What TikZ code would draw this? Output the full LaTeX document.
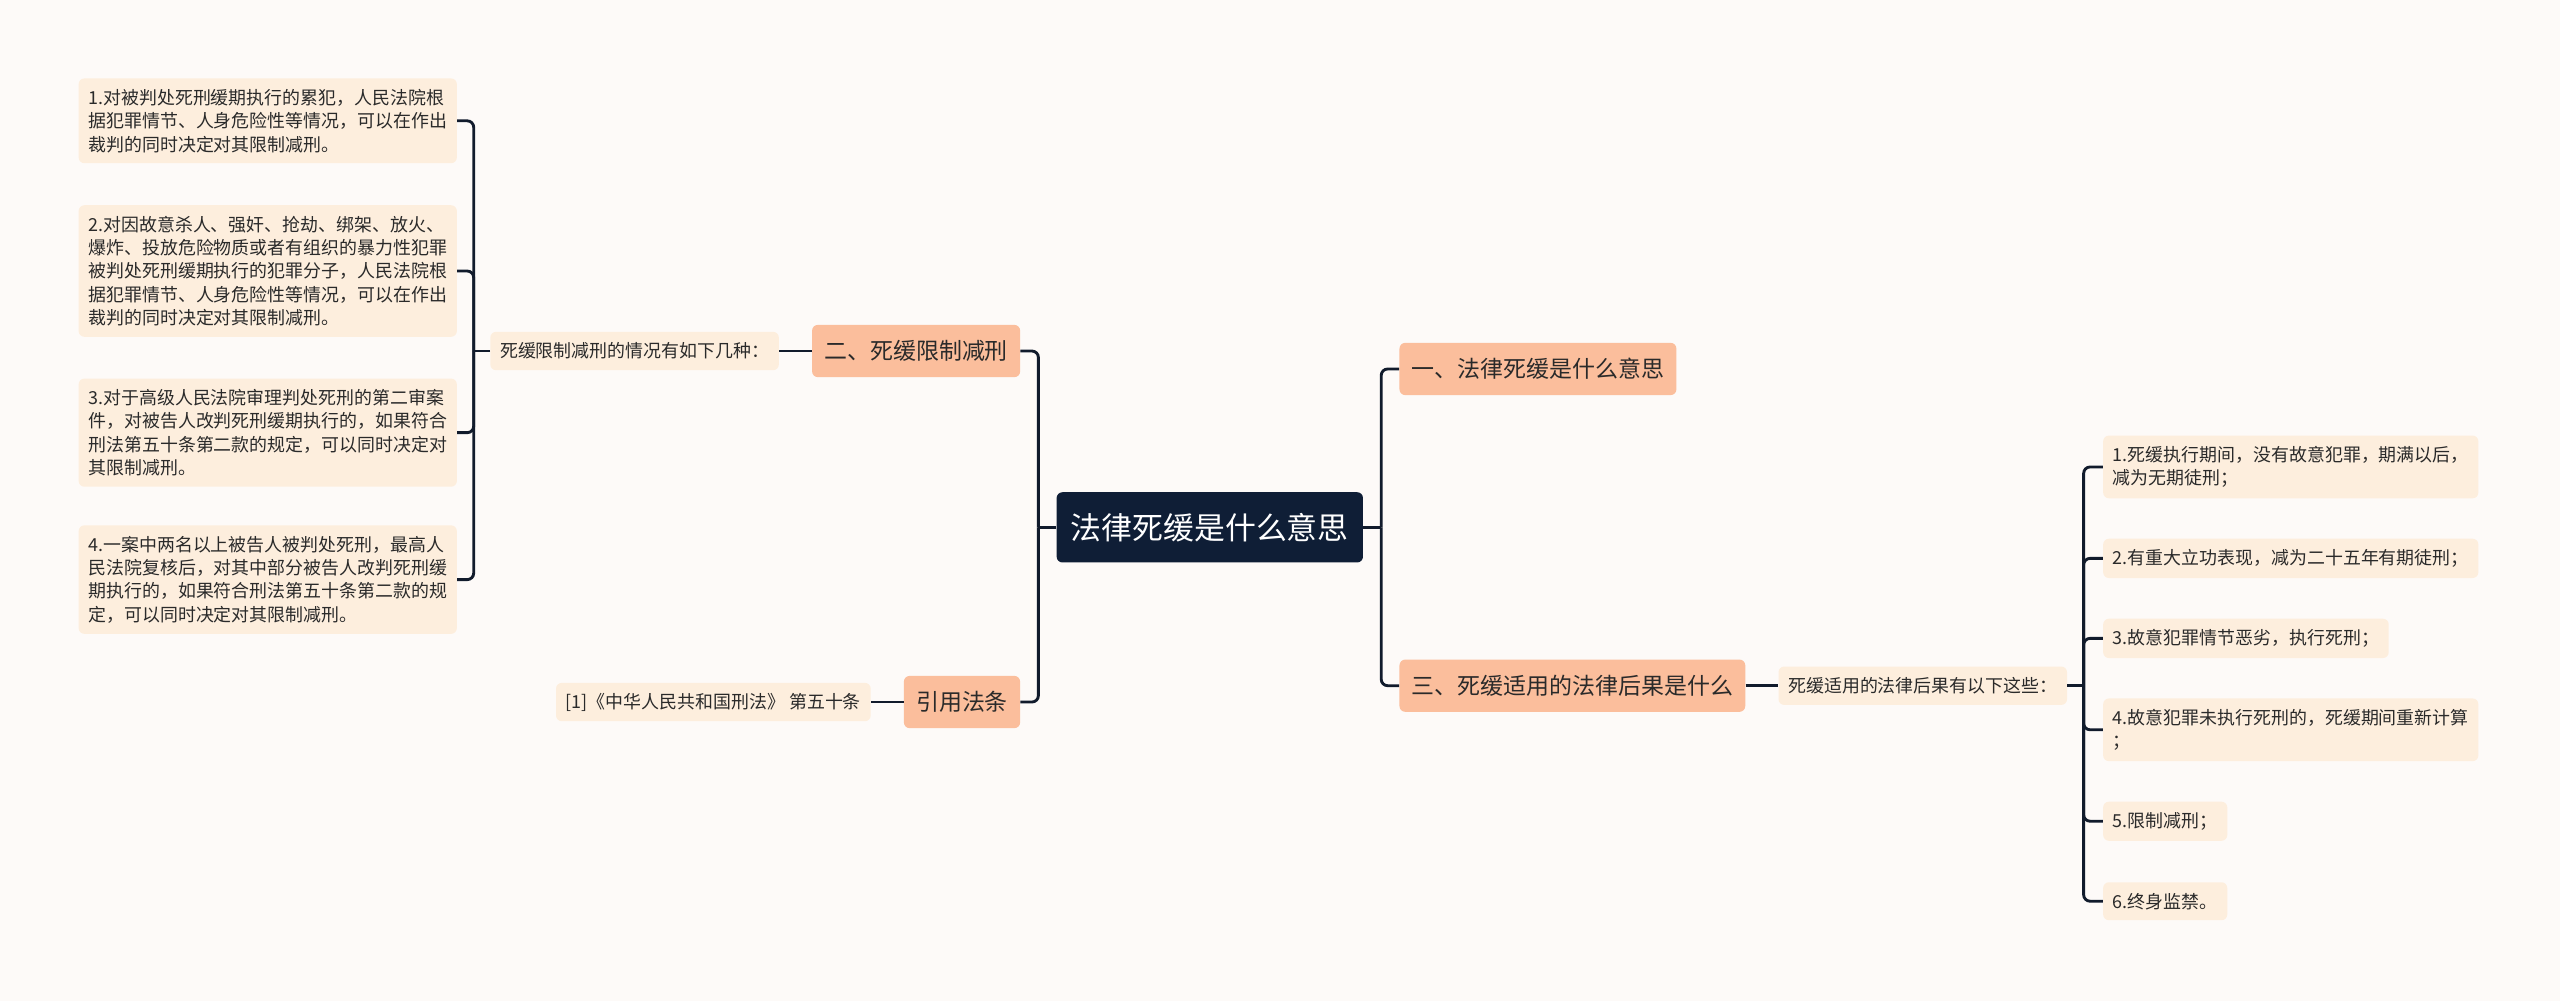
\documentclass[tikz,border=0pt]{standalone}
\usepackage{fontspec}
\newfontfamily\cjk{Noto Sans CJK SC}
\usetikzlibrary{positioning,calc}
\definecolor{MapBg}{HTML}{FDFAF8}
\definecolor{MapNavy}{HTML}{0F1E36}
\definecolor{MapPeach}{HTML}{FBBE9C}
\definecolor{MapCream}{HTML}{FDEEDD}
\definecolor{MapText}{HTML}{2A2A2A}
\definecolor{MapLine}{HTML}{111B2C}

\begin{document}
\begin{tikzpicture}[x=0.04cm,y=-0.04cm,node distance=0.8cm]
\tikzset{root/.style={fill=MapNavy,text=white,rounded corners=4pt,minimum height=1.72cm,inner xsep=10pt,font=\cjk\fontsize{21.5pt}{25pt}\selectfont},br/.style={fill=MapPeach,text=MapText,rounded corners=4pt,minimum height=1.28cm,inner xsep=8.5pt,font=\cjk\fontsize{16pt}{19pt}\selectfont},sub/.style={fill=MapCream,text=MapText,rounded corners=4pt,minimum height=0.94cm,inner xsep=6.8pt,font=\cjk\fontsize{12.5pt}{16.3pt}\selectfont},leaf/.style={fill=MapCream,text=MapText,rounded corners=4pt,align=left,inner xsep=6.8pt,inner ysep=7.4pt,font=\cjk\fontsize{12.5pt}{16.3pt}\selectfont},ln/.style={MapLine,line width=2pt,rounded corners=4.5pt}}
\useasboundingbox (0,0) rectangle (1568,613);
\fill[MapBg] (0,0) rectangle (1568,613);
\node[root] (root) at (741,323) {法律死缓是什么意思};
\node[br,anchor=west] (b1) at (857,226) {一、法律死缓是什么意思};
\node[br,anchor=west] (b3) at (857,420) {三、死缓适用的法律后果是什么};
\node[br,anchor=east] (b2) at (625,215) {二、死缓限制减刑};
\node[br,anchor=east] (b4) at (625,430) {引用法条};
\node[sub,right=of b3] (s3) {死缓适用的法律后果有以下这些：};
\node[sub,left=of b2] (s2) {死缓限制减刑的情况有如下几种：};
\node[sub,left=of b4] (s4) {[1]《中华人民共和国刑法》 第五十条};
\node[leaf,anchor=east] (ll1) at (280,74) {1.对被判处死刑缓期执行的累犯，人民法院根\\据犯罪情节、人身危险性等情况，可以在作出\\裁判的同时决定对其限制减刑。};
\node[leaf,anchor=east] (ll2) at (280,166) {2.对因故意杀人、强奸、抢劫、绑架、放火、\\爆炸、投放危险物质或者有组织的暴力性犯罪\\被判处死刑缓期执行的犯罪分子，人民法院根\\据犯罪情节、人身危险性等情况，可以在作出\\裁判的同时决定对其限制减刑。};
\node[leaf,anchor=east] (ll3) at (280,265) {3.对于高级人民法院审理判处死刑的第二审案\\件，对被告人改判死刑缓期执行的，如果符合\\刑法第五十条第二款的规定，可以同时决定对\\其限制减刑。};
\node[leaf,anchor=east] (ll4) at (280,355) {4.一案中两名以上被告人被判处死刑，最高人\\民法院复核后，对其中部分被告人改判死刑缓\\期执行的，如果符合刑法第五十条第二款的规\\定，可以同时决定对其限制减刑。};
\node[leaf,anchor=west] (rl1) at (1288,286) {1.死缓执行期间，没有故意犯罪，期满以后，\\减为无期徒刑；};
\node[leaf,anchor=west] (rl2) at (1288,342) {2.有重大立功表现，减为二十五年有期徒刑；};
\node[leaf,anchor=west] (rl3) at (1288,391) {3.故意犯罪情节恶劣，执行死刑；};
\node[leaf,anchor=west] (rl4) at (1288,447) {4.故意犯罪未执行死刑的，死缓期间重新计算\\；};
\node[leaf,anchor=west] (rl5) at (1288,503) {5.限制减刑；};
\node[leaf,anchor=west] (rl6) at (1288,552) {6.终身监禁。};
\coordinate (jl) at ([xshift=-0.44cm]root.west);
\coordinate (jr) at ([xshift=0.44cm]root.east);
\coordinate (jll) at ([xshift=-0.4cm]s2.west);
\coordinate (jrr) at ([xshift=0.4cm]s3.east);
\draw[ln] (root.west)--(jl);\draw[ln] (jl) |- (b2.east);\draw[ln] (jl) |- (b4.east);
\draw[ln] (root.east)--(jr);\draw[ln] (jr) |- (b1.west);\draw[ln] (jr) |- (b3.west);
\draw[ln] (b2.west)--(s2.east);\draw[ln] (b4.west)--(s4.east);\draw[ln] (b3.east)--(s3.west);
\draw[ln] (s2.west)--(jll);
\foreach \i in {1,...,4} \draw[ln] (jll) |- (ll\i.east);
\draw[ln] (s3.east)--(jrr);
\foreach \i in {1,...,6} \draw[ln] (jrr) |- (rl\i.west);
\end{tikzpicture}
\end{document}
